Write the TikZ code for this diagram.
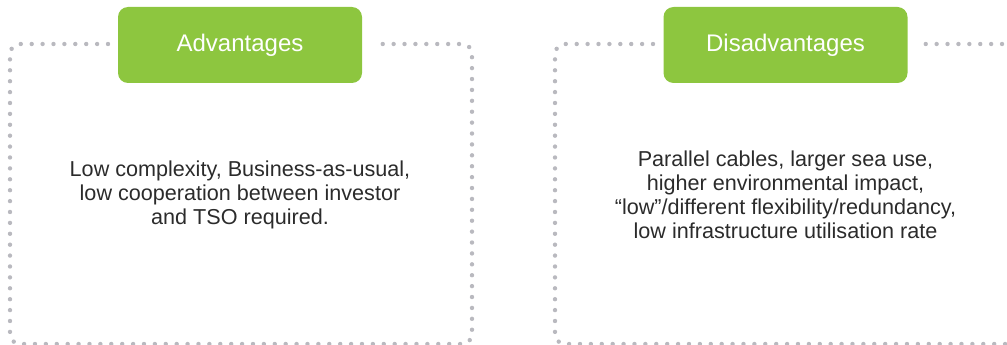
\documentclass[tikz,border=0pt]{standalone}
\usepackage{fontspec}
\setmainfont{Liberation Sans}
\usetikzlibrary{positioning}
\definecolor{leaf}{HTML}{8DC63F}
\definecolor{pebble}{HTML}{B9B9BF}
\definecolor{ink}{HTML}{2B2B2B}

\begin{document}
\begin{tikzpicture}[x=1pt, y=-1pt,
      tab/.style={draw=none, fill=leaf, rounded corners=10pt, text=white,
        font=\fontsize{24}{28}\selectfont,
        minimum width=244pt, minimum height=76pt, inner sep=0pt},
      frame/.style={pebble, line width=4.4pt, line cap=round,
        dash pattern=on 0pt off 10.9pt, rounded corners=10pt},
      body/.style={text=ink, align=center,
        font=\fontsize{21.6}{24}\selectfont}]
    \useasboundingbox (0,0) rectangle (1007,345);
    % dotted frames
    \draw[frame] (108,44) -- (10,44) -- (10,344) -- (472,344) -- (472,44) -- (372,44);
    \draw[frame] (653,44) -- (555,44) -- (555,344) -- (1016,344) -- (1016,44) -- (918,44);
    % headings
    \node[tab] (adv) at (240,45) {Advantages};
    \node[tab] (disadv) at (785.5,45) {Disadvantages};
    % texts
    \node[body] (advtext) at (240,195)
      {Low complexity, Business-as-usual,\\low cooperation between investor\\and TSO required.};
    \node[body] (disadvtext) at (785.5,195)
      {Parallel cables, larger sea use,\\higher environmental impact,\\“low”/different flexibility/redundancy,\\low infrastructure utilisation rate};
  \end{tikzpicture}
\end{document}
